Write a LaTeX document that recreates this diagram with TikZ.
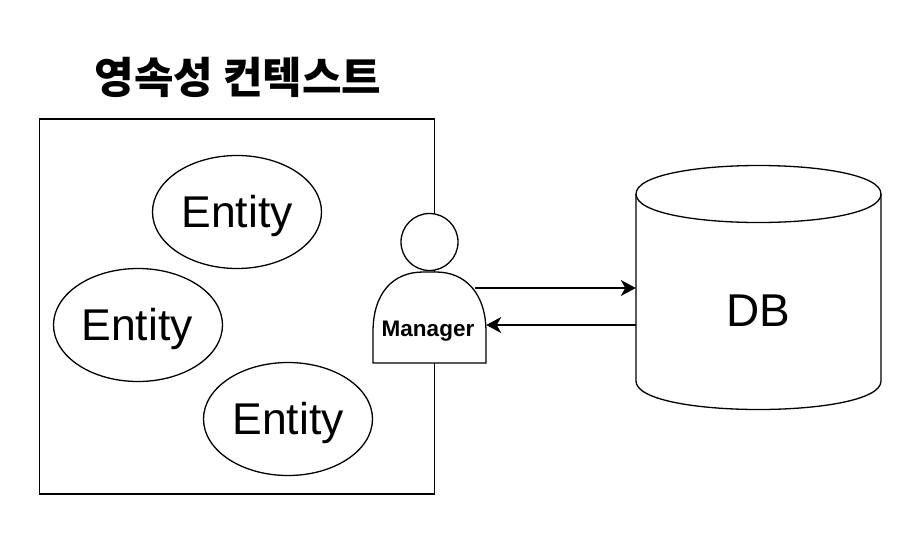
\documentclass[tikz,border=0pt]{standalone}
\usepackage{fontspec}
\setmainfont{Liberation Sans}
\newfontfamily\cjk{Noto Sans CJK KR}
\usetikzlibrary{shapes.geometric,arrows.meta}
\tikzset{
  ent/.style={draw,ellipse,minimum width=169pt,minimum height=113pt,inner sep=0pt,line width=1.3pt},
  enttext/.style={font=\fontsize{44.5}{50}\selectfont},
  lin/.style={line width=1.3pt},
  arr/.style={line width=1.3pt,-{Stealth[length=15pt,width=16pt,inset=4.5pt]}}
}
\begin{document}
\begin{tikzpicture}[x=1pt,y=-1pt]
\useasboundingbox (0,0) rectangle (901,533);
\node[draw,lin,minimum width=395pt,minimum height=375pt,inner sep=0pt] (ctx) at (237,306.5) {};
\node[font=\cjk\bfseries\fontsize{43}{46}\selectfont] (title) at (238,77) {영속성 컨텍스트};
\node[ent] (e1) at (237,212) {};
\node[ent] (e2) at (138,325) {};
\node[ent] (e3) at (288,419) {};
\node[enttext] (t1) at (237,216) {Entity};
\node[enttext] (t2) at (137,329) {Entity};
\node[enttext] (t3) at (288,423) {Entity};
\node[draw,circle,fill=white,lin,minimum size=57pt,inner sep=0pt] (head) at (429.5,242) {};
\draw[lin,fill=white] (373,363) -- (486,363) -- (486,332) .. controls (486,293) and (465,272) .. (436,272) -- (423,272) .. controls (393,272) and (373,293) .. (373,332) -- cycle;
\node[minimum width=113pt,minimum height=91pt,inner sep=0pt] (body) at (429.5,317.5) {};
\node[font=\bfseries\fontsize{22.5}{24}\selectfont] (mgr) at (428,331) {Manager};
\draw[lin] (636,194) -- (636,381) .. controls (636,419) and (881,419) .. (881,381) -- (881,194) .. controls (881,156) and (636,156) .. (636,194) -- cycle;
\draw[lin] (636,194) .. controls (636,232) and (881,232) .. (881,194);
\node[minimum width=245pt,minimum height=244pt,inner sep=0pt] (dbbox) at (758.5,287.5) {};
\node[font=\fontsize{46}{50}\selectfont] (db) at (758,311) {DB};
\coordinate (a1) at (475,288);
\coordinate (a2) at (636,325);
\draw[arr] (a1) -- (dbbox.west |- a1);
\draw[arr] (a2) -- (body.east |- a2);
\end{tikzpicture}
\end{document}
